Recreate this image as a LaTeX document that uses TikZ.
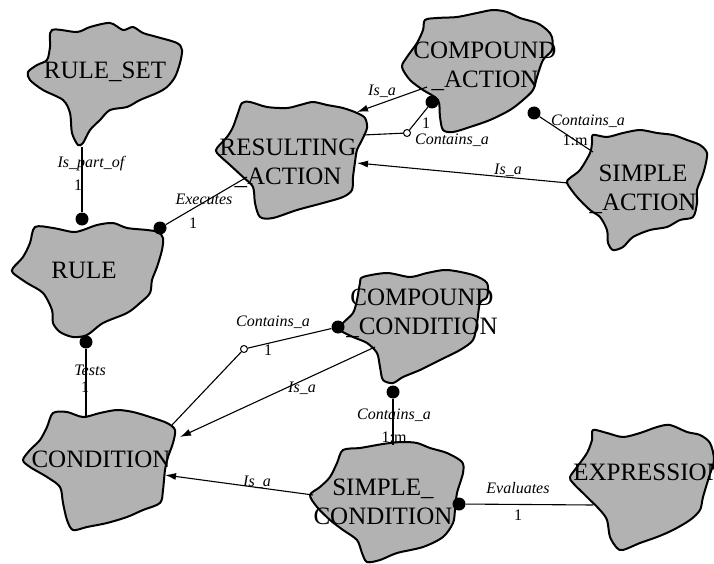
\documentclass[tikz,border=0pt]{standalone}
\usepackage{fontspec}
\setmainfont{Liberation Serif}
\usetikzlibrary{positioning,arrows.meta}

\begin{document}
\begin{tikzpicture}[x=1pt,y=-1pt,
		blob/.style={draw,line width=2pt,fill=black!30,line join=round},
		ent/.style={align=center,font=\fontsize{25}{29}\selectfont,inner sep=0pt},
		lbl/.style={font=\fontsize{16}{18}\selectfont\itshape,inner sep=0pt},
		card/.style={font=\fontsize{16}{18}\selectfont,inner sep=0pt},
		rel/.style={line width=1.1pt},
		isa/.style={rel,-{Latex[length=11pt,width=7pt]}},
		dot/.style={circle,fill,inner sep=0pt,minimum size=13pt},
		hole/.style={circle,draw,fill=white,inner sep=0pt,minimum size=7pt,line width=1pt}]
	\useasboundingbox (0,0) rectangle (714,564);

	% entity blobs
	\draw[blob] plot[smooth cycle] coordinates {(52,30) (77,32) (90,27) (110,23) (123,30) (133,27) (143,33) (157,37) (177,43) (182,50) (180,63) (175,77) (167,87) (157,93) (140,100) (127,107) (110,110) (100,120) (90,130) (83,143) (78,145) (72,133) (70,113) (63,100) (43,90) (30,80) (28,72) (37,65) (47,60) (50,47)};
	\draw[blob] plot[smooth cycle] coordinates {(35,227) (53,228) (73,232) (83,230) (97,225) (113,223) (127,228) (147,230) (158,232) (163,238) (162,250) (157,267) (152,280) (150,293) (140,303) (127,313) (103,323) (87,335) (73,337) (60,332) (53,323) (52,310) (43,293) (27,283) (13,273) (13,268) (23,257) (30,243)};
	\draw[blob] plot[smooth cycle] coordinates {(242,103) (250,102) (267,107) (287,108) (300,105) (313,102) (327,105) (343,108) (357,113) (365,118) (367,128) (362,140) (357,150) (355,162) (353,177) (352,190) (343,197) (323,203) (297,210) (273,218) (260,217) (255,203) (253,187) (243,177) (230,165) (217,153) (217,148) (227,137) (233,127) (238,113)};
	\draw[blob] plot[smooth cycle] coordinates {(425,20) (437,18) (457,17) (477,13) (493,10) (507,12) (520,18) (537,23) (547,30) (552,37) (552,50) (543,60) (537,77) (533,90) (523,100) (510,110) (490,120) (470,127) (453,132) (443,130) (440,117) (438,100) (423,90) (410,80) (402,67) (407,57) (417,43) (423,30)};
	\draw[blob] plot[smooth cycle] coordinates {(593,135) (607,137) (623,133) (640,130) (657,133) (673,135) (687,140) (700,145) (707,153) (705,167) (702,177) (697,190) (697,203) (693,217) (680,220) (667,227) (650,230) (633,237) (623,247) (613,250) (608,243) (607,230) (600,217) (590,210) (577,197) (567,183) (570,178) (580,170) (590,153) (592,143)};
	\draw[blob] plot[smooth cycle] coordinates {(363,277) (387,273) (410,277) (427,273) (447,270) (473,275) (487,283) (487,297) (480,303) (477,323) (473,340) (460,350) (440,360) (420,370) (403,377) (393,383) (383,380) (380,367) (377,353) (367,343) (353,337) (340,330) (343,323) (353,313) (357,300) (360,283)};
	\draw[blob] plot[smooth cycle] coordinates {(53,413) (67,412) (83,417) (100,413) (117,410) (133,412) (150,417) (167,423) (175,430) (173,443) (168,457) (165,470) (163,490) (160,503) (143,510) (127,517) (107,523) (87,527) (73,530) (67,520) (63,503) (60,487) (47,477) (30,467) (23,460) (30,450) (40,440) (47,427)};
	\draw[blob] plot[smooth cycle] coordinates {(343,450) (360,448) (377,445) (390,443) (403,442) (417,443) (430,448) (447,453) (462,462) (463,473) (457,493) (455,510) (453,523) (443,537) (423,547) (397,553) (380,560) (367,562) (362,553) (357,540) (343,530) (330,520) (317,507) (310,495) (320,487) (330,477) (337,463)};
	\draw[blob] plot[smooth cycle] coordinates {(593,430) (607,433) (623,437) (640,433) (657,427) (670,425) (687,432) (700,435) (710,443) (714,460) (709,477) (703,497) (700,510) (690,520) (673,530) (657,537) (640,543) (623,550) (617,548) (610,537) (607,520) (600,510) (587,497) (573,483) (570,477) (577,467) (587,453) (592,440)};

	% relationship ends
	\coordinate (rs-s) at (82,147);
	\coordinate (ra-sw) at (247,177);
	\coordinate (ra-e) at (363,135);
	\coordinate (ra-ne) at (357,112);
	\coordinate (ra-se) at (357,163);
	\coordinate (ca-w) at (427,87);
	\coordinate (sa-nw) at (593,152);
	\coordinate (sa-w) at (568,183);
	\coordinate (cd-n) at (86,418);
	\coordinate (cd-ne) at (172,425);
	\coordinate (cd-e) at (180,437);
	\coordinate (cd-se) at (165,475);
	\coordinate (cc-sw) at (375,347);
	\coordinate (sc-n) at (393,445);
	\coordinate (sc-w) at (313,495);
	\coordinate (ex-w) at (593,505);

	\node[dot] (rule-n) at (82,219) {};
	\node[dot] (rule-ne) at (160,228) {};
	\node[dot] (rule-s) at (86,342) {};
	\node[dot] (ca-sw) at (432,102) {};
	\node[dot] (ca-se) at (534,113) {};
	\node[dot] (cc-w) at (338,327) {};
	\node[dot] (cc-s) at (393,392) {};
	\node[dot] (sc-e) at (459,504) {};
	\node[hole] (ra-opt) at (407,133) {};
	\node[hole] (cd-opt) at (244,349) {};

	\draw[rel] (rs-s) -- (rule-n);
	\draw[rel] (rule-ne) -- (ra-sw);
	\draw[isa] (ca-w) -- (ra-ne);
	\draw[rel] (ra-e) -- (ra-opt) -- (ca-sw);
	\draw[rel] (ca-se) -- (sa-nw);
	\draw[isa] (sa-w) -- (ra-se);
	\draw[rel] (rule-s) -- (cd-n);
	\draw[rel] (cd-ne) -- (cd-opt) -- (cc-w);
	\draw[isa] (cc-sw) -- (cd-e);
	\draw[rel] (cc-s) -- (sc-n);
	\draw[isa] (sc-w) -- (cd-se);
	\draw[rel] (sc-e) -- (ex-w);

	% relationship names and cardinalities
	\node[lbl] (l-part) at (91,164) {Is\_part\_of};
	\node[card] (c-part) at (78,185) {1};
	\node[lbl] (l-exec) at (204,199) {Executes};
	\node[card] (c-exec) at (193,223) {1};
	\node[lbl] (l-isa1) at (382,91) {Is\_a};
	\node[card] (c-ca1) at (426,123) {1};
	\node[lbl] (l-ca1) at (452,140) {Contains\_a};
	\node[lbl] (l-ca2) at (588,121) {Contains\_a};
	\node[card] (c-ca2) at (575,140) {1:m};
	\node[lbl] (l-isa2) at (508,170) {Is\_a};
	\node[lbl] (l-test) at (90,370) {Tests};
	\node[card] (c-test) at (85,387) {1};
	\node[lbl] (l-cc1) at (273,322) {Contains\_a};
	\node[card] (c-cc1) at (268,350) {1};
	\node[lbl] (l-isa3) at (302,388) {Is\_a};
	\node[lbl] (l-cc2) at (394,415) {Contains\_a};
	\node[card] (c-cc2) at (394,437) {1:m};
	\node[lbl] (l-isa4) at (257,482) {Is\_a};
	\node[lbl] (l-eval) at (518,488) {Evaluates};
	\node[card] (c-eval) at (518,515) {1};

	% entity names
	\node[ent] (ruleset) at (105,72) {RULE\_SET};
	\node[ent] (rule) at (84,270) {RULE};
	\node[ent] (resaction) at (288,163) {RESULTING\\\_ACTION};
	\node[ent] (cpdaction) at (485,66) {COMPOUND\\\_ACTION};
	\node[ent] (smpaction) at (643,189) {SIMPLE\\\_ACTION};
	\node[ent] (cpdcond) at (422,313) {COMPOUND\\\_CONDITION};
	\node[ent] (condition) at (101,459) {CONDITION};
	\node[ent] (smpcond) at (383,502) {SIMPLE\_\\CONDITION};
	\node[ent] (expression) at (649,472) {EXPRESSION};
\end{tikzpicture}
\end{document}
